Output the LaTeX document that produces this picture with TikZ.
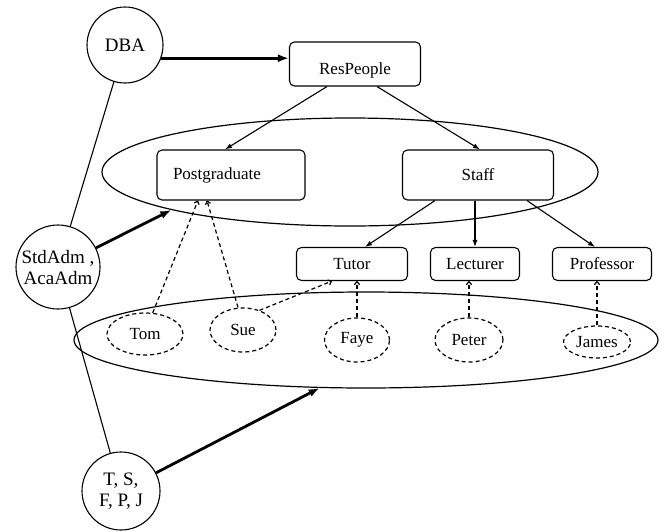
\documentclass[tikz,border=0pt]{standalone}
\usepackage{fontspec}
\setmainfont{Liberation Serif}
\usetikzlibrary{arrows.meta,shapes.geometric}

\begin{document}
\begin{tikzpicture}[x=1pt,y=-1pt,
    agent/.style={draw, circle, line width=1.1pt, align=center, inner sep=0pt,
      font=\fontsize{19}{21}\selectfont},
    cls/.style={draw, rounded corners=5pt, line width=1.1pt, inner sep=0pt,
      font=\fontsize{17}{19}\selectfont},
    obj/.style={draw, ellipse, dashed, dash pattern=on 4pt off 3pt, line width=1.2pt,
      inner sep=0pt, minimum width=66pt, minimum height=44pt,
      font=\fontsize{17}{19}\selectfont},
    group/.style={draw, ellipse, line width=1.2pt, inner sep=0pt},
    isa/.style={line width=1.1pt, -{Latex[length=7pt,width=5pt]}},
    inst/.style={line width=1.2pt, dash pattern=on 4pt off 3pt, -{To[length=4pt,width=6pt]}},
    grant/.style={line width=2.8pt, -{Latex[length=11pt,width=8pt]}}]
  \useasboundingbox (0,0) rectangle (670,531);

  % Groups
  \node[group, minimum width=496pt, minimum height=108pt] (roles) at (350,172) {};
  \node[group, minimum width=584pt, minimum height=96pt] (people) at (366,340) {};

  % Users
  \node[agent, minimum size=76pt] (dba) at (125,45) {DBA};
  \node[agent, minimum size=84pt] (std) at (58,267) {StdAdm ,\\AcaAdm};
  \node[agent, minimum size=78pt] (ts) at (121,491) {T, S,\\F, P, J};

  % Classes
  \node[cls, minimum width=131pt, minimum height=44pt, text height=20pt, text depth=0pt] (res) at (355,64) {ResPeople};
  \node[cls, minimum width=148pt, minimum height=50pt, text width=116pt, align=left] (pg) at (231,175) {Postgraduate};
  \node[cls, minimum width=151pt, minimum height=50pt] (staff) at (478,175) {Staff};
  \node[cls, minimum width=111pt, minimum height=33pt] (tutor) at (352,264) {Tutor};
  \node[cls, minimum width=89pt, minimum height=33pt] (lect) at (475,264) {Lecturer};
  \node[cls, minimum width=99pt, minimum height=33pt] (prof) at (602,264) {Professor};

  % Objects
  \node[obj, minimum width=76pt, minimum height=42pt] (tom) at (145,334) {Tom};
  \node[obj] (sue) at (243,330) {Sue};
  \node[obj, minimum width=65pt] (faye) at (357,340) {Faye};
  \node[obj, minimum width=68pt] (peter) at (469,340) {Peter};
  \node[obj, minimum width=67pt, minimum height=32pt] (james) at (597,342) {James};

  % Drawing
  \draw[line width=1.1pt] (dba) -- (std);
  \draw[line width=1.1pt] (std) -- (ts);
  \draw[grant] (dba.-20) -- (dba.-20 -| res.west);
  \draw[grant] (std) -- (roles.192);
  \draw[grant] (ts) -- (people.226);

  \draw[isa] ([xshift=-28pt]res.south) -- ([xshift=-6pt]pg.north);
  \draw[isa] ([xshift=22pt]res.south) -- ([xshift=2pt]staff.north);
  \draw[isa] ([xshift=-43pt]staff.south) -- ([xshift=13pt]tutor.north);
  \draw[isa] (staff.south -| lect.north) -- (lect.north);
  \draw[isa] ([xshift=49pt]staff.south) -- ([xshift=-7pt]prof.north);

  \draw[inst] (tom.70) -- ([xshift=-33pt]pg.south);
  \draw[inst] ([xshift=-5pt]sue.north) -- ([xshift=-24pt]pg.south);
  \draw[inst] (sue.50) -- ([xshift=-20pt]tutor.south);
  \draw[inst] (faye.north) -- (faye.north |- tutor.south);
  \draw[inst] (peter.north) -- (peter.north |- lect.south);
  \draw[inst] (james.north) -- (james.north |- prof.south);
\end{tikzpicture}
\end{document}
